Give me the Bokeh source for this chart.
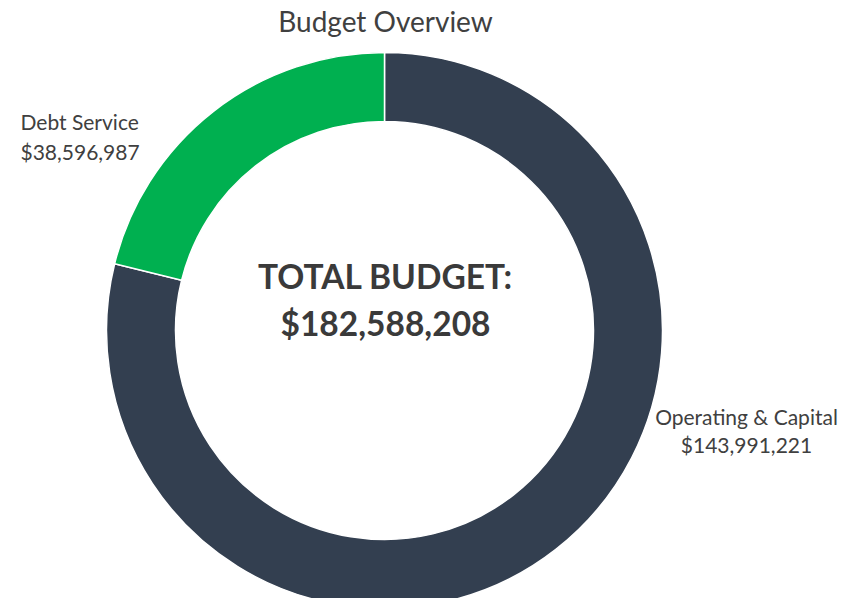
import math
from bokeh.plotting import figure
from bokeh.models import Range1d, ColumnDataSource
from bokeh.core.properties import value
from bokeh.embed import file_html
from bokeh.resources import INLINE

# ---- data ----
categories = ["Operating & Capital", "Debt Service"]
amounts = [143991221, 38596987]
colors = ["#333F50", "#00B050"]
title_text = "Budget Overview"
center_caption = "TOTAL BUDGET:"

total = sum(amounts)

W, H = 843, 598
p = figure(width=W, height=H, output_backend="svg", toolbar_location=None,
           x_range=Range1d(0, W), y_range=Range1d(0, H), min_border=0,
           match_aspect=False)
p.axis.visible = False
p.grid.visible = False
p.outline_line_color = None
p.background_fill_color = "white"
p.border_fill_color = "white"

# wedge angles: clockwise from top
starts, ends = [], []
ang = math.pi / 2
for a in amounts:
    sweep = 2 * math.pi * a / total
    starts.append(ang)
    ends.append(ang - sweep)
    ang -= sweep

src = ColumnDataSource(dict(cat=categories, amt=amounts, color=colors,
                            start=starts, end=ends))
cx, cy = 384, 268
p.annular_wedge(x=cx, y=cy, inner_radius=209, outer_radius=278,
                start_angle="start", end_angle="end", direction="clock",
                fill_color="color", line_color="white", line_width=1.5,
                source=src)

txt_color = "#404040"
font = value("Lato")

# title
p.text(x=[385], y=[578], text=[title_text], text_font=font,
       text_font_size="28px", text_color=txt_color,
       text_align="center", text_baseline="middle")

# center total
p.text(x=[385, 385], y=[323, 276],
       text=[center_caption, f"${total:,}"], text_font=font,
       text_font_size="33.5px", text_font_style="bold", text_color="#3A3A3A",
       text_align="center", text_baseline="middle")

# slice labels
label_pos = {"Debt Service": (20, [477, 447], "left"),
             "Operating & Capital": (746, [182, 154], "center")}
for c, a in zip(categories, amounts):
    x, ys, al = label_pos[c]
    p.text(x=[x, x], y=ys, text=[c, f"${a:,}"], text_font=font,
           text_font_size="21px", text_color=txt_color,
           text_align=al, text_baseline="middle")

open("out.html", "w").write(file_html(p, INLINE))
